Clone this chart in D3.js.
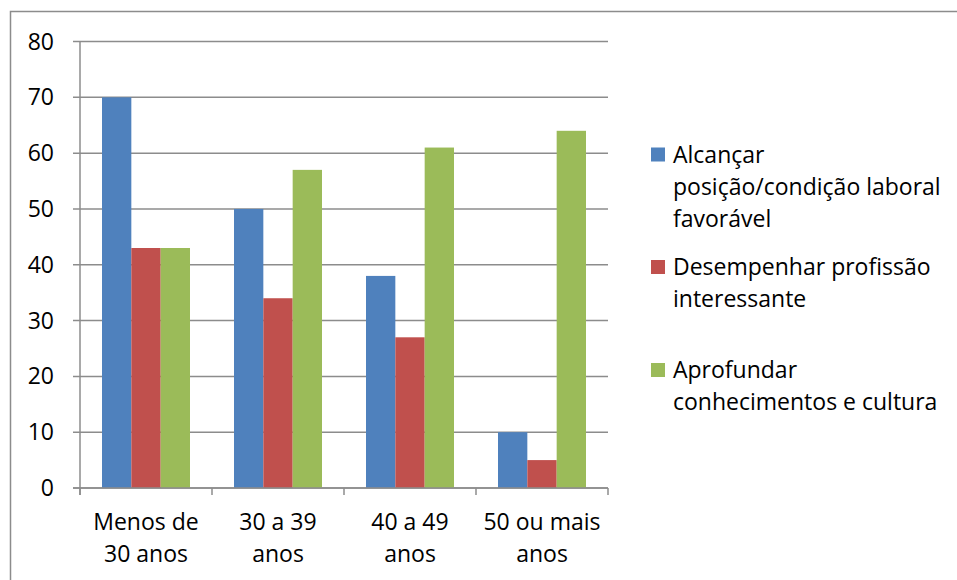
<!DOCTYPE html>
<html><head><meta charset="utf-8">
<script src="https://cdn.jsdelivr.net/npm/d3@7"></script>
<style>body{margin:0;background:#fff}svg{display:block}text{font-family:"Open Sans","Noto Sans",sans-serif;fill:#000}</style>
</head><body>
<script>
const categories = [["Menos de","30 anos"],["30 a 39","anos"],["40 a 49","anos"],["50 ou mais","anos"]];
const seriesNames = [["Alcançar","posição/condição laboral","favorável"],["Desempenhar profissão","interessante"],["Aprofundar","conhecimentos e cultura"]];
const alcancar = [70,50,38,10];
const desempenhar = [43,34,27,5];
const aprofundar = [43,57,61,64];
const colors = ["#4F81BD","#C0504D","#9BBB59"];
const yTicks = [0,10,20,30,40,50,60,70,80];

const W=957,H=580,FS=23;
const svg=d3.select("body").append("svg").attr("width",W).attr("height",H);
svg.append("rect").attr("x",10.5).attr("y",11.5).attr("width",1000).attr("height",1000)
  .attr("fill","none").attr("stroke","#8c8c8c").attr("stroke-width",1.5);

const L=80,R=608,T=41.5,B=488;
const x=d3.scaleBand().domain(d3.range(4)).range([L,R]).paddingInner(0).paddingOuter(0);
const y=d3.scaleLinear().domain([0,80]).range([B,T]);
const inner=d3.scaleBand().domain(d3.range(3)).range([0,x.bandwidth()]).paddingInner(0).paddingOuter(0.75);

// gridlines
svg.append("g").selectAll("line").data(yTicks).join("line")
  .attr("x1",L-7).attr("x2",R).attr("y1",d=>y(d)).attr("y2",d=>y(d))
  .attr("stroke","#8c8c8c").attr("stroke-width",1.5);

const series=[alcancar,desempenhar,aprofundar];
series.forEach((s,si)=>{
  svg.append("g").selectAll("rect").data(s).join("rect")
    .attr("x",(d,i)=>x(i)+inner(si)).attr("width",inner.bandwidth())
    .attr("y",d=>y(d)).attr("height",d=>B-y(d)).attr("fill",colors[si]);
});

// axes lines
svg.append("line").attr("x1",L).attr("x2",L).attr("y1",T).attr("y2",B+7).attr("stroke","#8c8c8c").attr("stroke-width",1.5);
svg.append("line").attr("x1",L-7).attr("x2",R).attr("y1",B).attr("y2",B).attr("stroke","#8c8c8c").attr("stroke-width",1.5);
svg.append("g").selectAll("line").data(d3.range(5)).join("line")
  .attr("x1",d=>L+d*x.bandwidth()).attr("x2",d=>L+d*x.bandwidth()).attr("y1",B).attr("y2",B+7)
  .attr("stroke","#8c8c8c").attr("stroke-width",1.5);

// y labels
svg.append("g").selectAll("text").data(yTicks).join("text")
  .attr("x",54).attr("y",d=>y(d)+8).attr("text-anchor","end").attr("font-size",FS).text(d=>d);

// x labels
categories.forEach((c,i)=>{
  c.forEach((ln,j)=>{
    svg.append("text").attr("x",x(i)+x.bandwidth()/2).attr("y",530+j*31.5)
      .attr("text-anchor","middle").attr("font-size",FS).text(ln);
  });
});

// legend
const legY=[162.5,275,378];
seriesNames.forEach((nm,si)=>{
  svg.append("rect").attr("x",651).attr("y",legY[si]-15).attr("width",14).attr("height",14).attr("fill",colors[si]);
  nm.forEach((ln,j)=>{
    svg.append("text").attr("x",673).attr("y",legY[si]+j*32).attr("font-size",FS).text(ln);
  });
});
</script>
</body></html>
